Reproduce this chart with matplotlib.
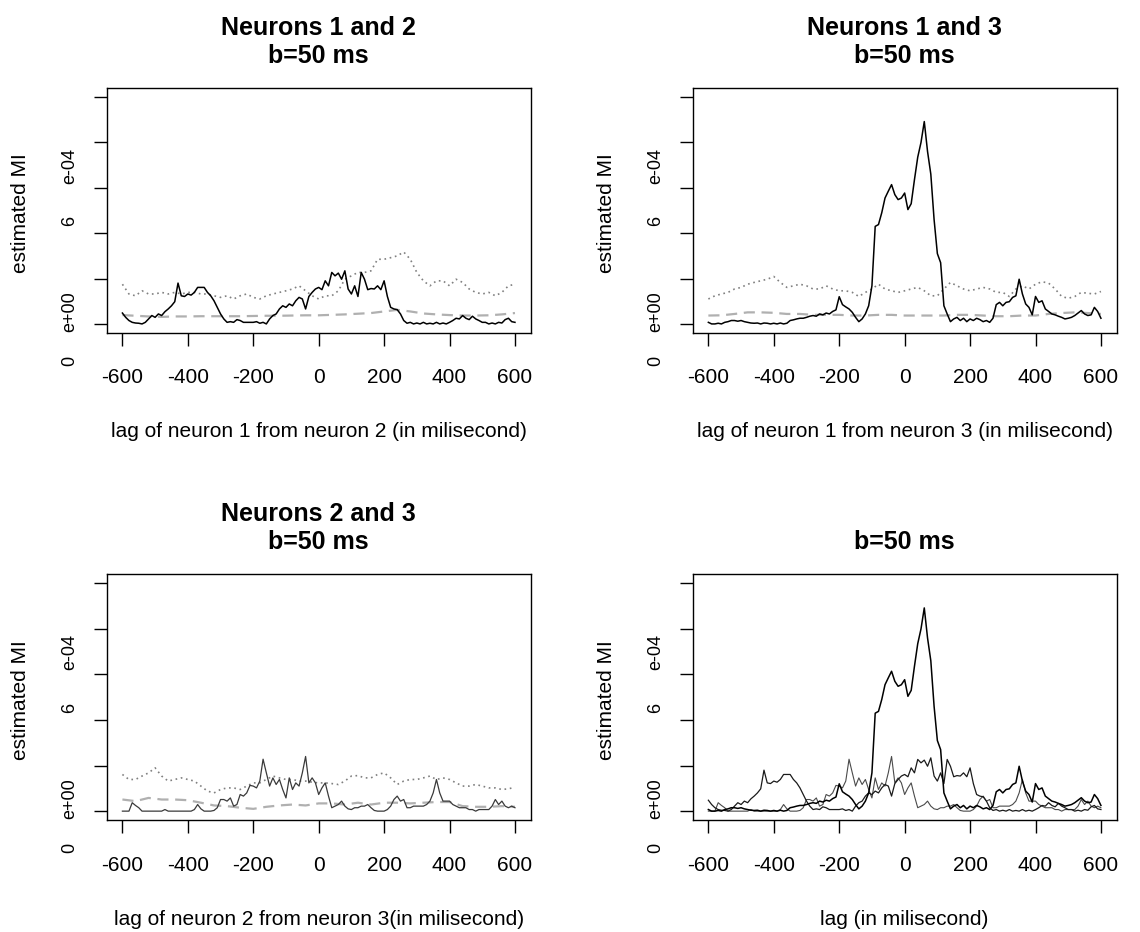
import numpy as np
import matplotlib
matplotlib.use("Agg")
import matplotlib.pyplot as plt
import matplotlib.transforms as mtransforms

plt.rcParams['font.family'] = ['Liberation Sans', 'DejaVu Sans']

# lags (ms)
lag10 = np.arange(-600, 601, 10)
lag20 = np.arange(-600, 601, 20)
lag40 = np.arange(-600, 601, 40)

# estimated MI (units of 1e-4), solid curves
mi12 = [0.48, 0.29, 0.15, 0.07, 0.04, 0.03, 0.00, 0.07, 0.22, 0.37,
        0.29, 0.44, 0.37, 0.54, 0.66, 0.80, 0.98, 1.80, 1.24, 1.21,
        1.32, 1.27, 1.39, 1.61, 1.61, 1.61, 1.39, 1.24, 1.02, 0.73,
        0.44, 0.22, 0.07, 0.10, 0.07, 0.19, 0.15, 0.07, 0.07, 0.07,
        0.07, 0.10, 0.03, 0.07, 0.00, 0.22, 0.37, 0.44, 0.66, 0.80,
        0.73, 0.88, 0.80, 1.02, 1.17, 1.10, 0.66, 1.21, 1.39, 1.54,
        1.61, 1.51, 1.90, 1.68, 2.27, 2.12, 2.24, 1.97, 2.34, 1.54,
        1.32, 1.68, 1.21, 2.27, 1.97, 1.51, 1.56, 1.54, 1.68, 1.51,
        1.90, 1.21, 0.73, 0.66, 0.63, 0.44, 0.15, 0.03, 0.07, 0.00,
        0.04, 0.00, 0.07, 0.00, 0.03, 0.00, 0.07, 0.00, 0.04, 0.00,
        0.07, 0.15, 0.25, 0.22, 0.37, 0.25, 0.19, 0.34, 0.22, 0.15,
        0.07, 0.07, 0.00, 0.04, 0.00, 0.07, 0.04, 0.19, 0.25, 0.10,
        0.07]
mi13 = [0.07, 0.00, 0.00, 0.03, 0.00, 0.07, 0.10, 0.15, 0.15, 0.12,
        0.15, 0.10, 0.07, 0.04, 0.03, 0.04, 0.00, 0.04, 0.03, 0.00,
        0.03, 0.00, 0.04, 0.00, 0.03, 0.15, 0.18, 0.22, 0.25, 0.25,
        0.29, 0.34, 0.37, 0.34, 0.44, 0.40, 0.48, 0.44, 0.55, 0.62,
        1.20, 0.85, 0.75, 0.66, 0.51, 0.29, 0.10, 0.22, 0.44, 0.80,
        1.68, 4.30, 4.38, 4.90, 5.55, 5.85, 6.14, 5.70, 5.48, 5.55,
        5.77, 5.04, 5.30, 6.36, 7.35, 8.00, 8.92, 7.60, 6.60, 4.60,
        3.10, 2.70, 0.80, 0.44, 0.10, 0.22, 0.29, 0.15, 0.25, 0.10,
        0.22, 0.15, 0.25, 0.19, 0.10, 0.15, 0.07, 0.25, 0.85, 0.95,
        0.80, 0.95, 0.98, 1.17, 1.24, 1.97, 1.32, 0.88, 0.73, 0.40,
        1.21, 0.95, 1.02, 0.66, 0.55, 0.44, 0.40, 0.34, 0.29, 0.22,
        0.25, 0.29, 0.37, 0.48, 0.59, 0.44, 0.37, 0.40, 0.73, 0.55,
        0.25]
mi23 = [0.00, 0.00, 0.00, 0.37, 0.25, 0.15, 0.00, 0.00, 0.00, 0.00,
        0.00, 0.00, 0.00, 0.07, 0.00, 0.00, 0.00, 0.00, 0.00, 0.00,
        0.00, 0.00, 0.07, 0.29, 0.10, 0.00, 0.00, 0.00, 0.03, 0.15,
        0.51, 0.51, 0.44, 0.58, 0.22, 0.29, 0.73, 0.66, 0.80, 1.13,
        1.10, 1.02, 1.32, 2.28, 1.68, 1.10, 1.46, 1.17, 1.39, 0.95,
        0.58, 1.46, 0.95, 1.24, 1.10, 1.68, 2.40, 1.24, 1.46, 1.24,
        0.73, 1.02, 1.24, 0.66, 0.15, 0.22, 0.29, 0.44, 0.22, 0.10,
        0.07, 0.15, 0.15, 0.22, 0.22, 0.29, 0.15, 0.03, 0.00, 0.00,
        0.00, 0.07, 0.22, 0.51, 0.66, 0.44, 0.51, 0.15, 0.15, 0.22,
        0.22, 0.22, 0.22, 0.29, 0.44, 0.80, 1.39, 0.80, 0.44, 0.44,
        0.44, 0.29, 0.22, 0.15, 0.15, 0.15, 0.07, 0.07, 0.00, 0.07,
        0.07, 0.07, 0.07, 0.22, 0.51, 0.29, 0.44, 0.22, 0.15, 0.22,
        0.15]

# dotted reference curves
dot12 = [1.75, 1.32, 1.24, 1.46, 1.32, 1.32, 1.39, 1.32, 1.39, 1.32,
         1.39, 1.39, 1.32, 1.32, 1.24, 1.17, 1.24, 1.10, 1.24, 1.32,
         1.17, 1.10, 1.24, 1.32, 1.39, 1.46, 1.54, 1.68, 1.46, 1.24,
         1.10, 1.24, 1.24, 1.46, 1.97, 2.12, 2.27, 2.27, 2.34, 2.85,
         2.85, 2.92, 3.00, 3.17, 2.85, 2.27, 1.90, 1.68, 1.90, 1.90,
         1.68, 1.97, 1.83, 1.54, 1.39, 1.32, 1.39, 1.24, 1.39, 1.68,
         1.75]
dot13 = [1.10, 1.24, 1.32, 1.39, 1.54, 1.61, 1.75, 1.83, 1.90, 1.97,
         2.09, 1.83, 1.61, 1.68, 1.75, 1.68, 1.54, 1.54, 1.68, 1.54,
         1.46, 1.46, 1.39, 1.21, 1.39, 1.54, 1.75, 1.54, 1.46, 1.39,
         1.46, 1.54, 1.61, 1.46, 1.24, 1.24, 1.54, 1.83, 1.68, 1.54,
         1.46, 1.54, 1.61, 1.54, 1.39, 1.39, 1.21, 1.54, 1.68, 1.54,
         1.75, 1.86, 1.80, 1.54, 1.21, 1.13, 1.21, 1.39, 1.35, 1.32,
         1.43]
dot23 = [1.61, 1.39, 1.39, 1.54, 1.68, 1.90, 1.54, 1.32, 1.39, 1.46,
         1.39, 1.32, 1.10, 0.88, 0.80, 0.95, 1.02, 1.02, 0.95, 1.10,
         1.24, 1.24, 1.39, 1.54, 1.46, 1.39, 1.39, 1.32, 1.32, 1.27,
         1.24, 1.24, 1.21, 1.17, 1.32, 1.54, 1.56, 1.46, 1.46, 1.61,
         1.68, 1.46, 1.17, 1.32, 1.39, 1.39, 1.46, 1.54, 1.39, 1.46,
         1.39, 1.24, 1.10, 1.10, 1.17, 1.10, 1.02, 1.02, 0.95, 0.98,
         1.05]

# dashed reference curves
dash12 = [0.39, 0.36, 0.33, 0.31, 0.33, 0.33, 0.34, 0.34, 0.34, 0.34,
          0.35, 0.36, 0.36, 0.37, 0.38, 0.38, 0.40, 0.42, 0.45, 0.48,
          0.55, 0.62, 0.55, 0.46, 0.42, 0.39, 0.37, 0.37, 0.38, 0.42,
          0.48]
dash13 = [0.37, 0.38, 0.44, 0.51, 0.51, 0.49, 0.44, 0.44, 0.40, 0.40,
          0.40, 0.37, 0.37, 0.40, 0.40, 0.37, 0.37, 0.37, 0.37, 0.40,
          0.40, 0.37, 0.34, 0.34, 0.37, 0.37, 0.44, 0.48, 0.51, 0.48,
          0.44]
dash23 = [0.51, 0.44, 0.58, 0.51, 0.51, 0.48, 0.37, 0.25, 0.22, 0.15,
          0.10, 0.19, 0.25, 0.29, 0.25, 0.34, 0.34, 0.29, 0.37, 0.29,
          0.37, 0.37, 0.34, 0.37, 0.40, 0.40, 0.22, 0.19, 0.19, 0.22,
          0.19]

titles = ["Neurons 1 and 2\nb=50 ms", "Neurons 1 and 3\nb=50 ms",
          "Neurons 2 and 3\nb=50 ms", "b=50 ms"]
xlabels = ["lag of neuron 1 from neuron 2 (in milisecond)",
           "lag of neuron 1 from neuron 3 (in milisecond)",
           "lag of neuron 2 from neuron 3(in milisecond)",
           "lag (in milisecond)"]
xticks = [-600, -400, -200, 0, 200, 400, 600]
yticks = [0, 2, 4, 6, 8, 10]
# garbled y labels as printed in the original, with their y positions
ytexts = ["0", "e+00", "6", "e-04"]
ytext_pos = [-1.62, 0.55, 4.52, 6.97]

fig = plt.figure(figsize=(11.4, 9.32), dpi=100)
rects = [[0.0936, 0.6427, 0.3719, 0.2629],
         [0.6076, 0.6427, 0.3719, 0.2629],
         [0.0936, 0.1199, 0.3719, 0.2640],
         [0.6076, 0.1199, 0.3719, 0.2640]]
axes = [fig.add_axes(r) for r in rects]

dotted = dict(color='#808080', lw=1.2, ls=(0, (1, 2.2)))
dashed = dict(color='#b0b0b0', lw=1.6, ls=(0, (5, 3)))

ax = axes[0]
ax.plot(lag20, dot12, **dotted)
ax.plot(lag40, dash12, **dashed)
ax.plot(lag10, mi12, color='black', lw=1.1)

ax = axes[1]
ax.plot(lag20, dot13, **dotted)
ax.plot(lag40, dash13, **dashed)
ax.plot(lag10, mi13, color='black', lw=1.1)

ax = axes[2]
ax.plot(lag20, dot23, **dotted)
ax.plot(lag40, dash23, **dashed)
ax.plot(lag10, mi23, color='#3a3a3a', lw=0.9)

ax = axes[3]
ax.plot(lag10, mi23, color='#4a4a4a', lw=0.8)
ax.plot(lag10, mi12, color='#1a1a1a', lw=0.9)
ax.plot(lag10, mi13, color='black', lw=1.1)

for ax, t, xl in zip(axes, titles, xlabels):
    ax.set_xlim(-648, 648)
    ax.set_ylim(-0.4, 10.4)
    ax.set_xticks(xticks)
    ax.set_xticklabels([str(v) for v in xticks], fontsize=15)
    ax.set_yticks(yticks)
    ax.set_yticklabels([])
    ax.tick_params(direction='out', length=9.5, width=1.0, color='black')
    ax.tick_params(axis='x', pad=16)
    for s in ax.spines.values():
        s.set_linewidth(1.0)
    ax.set_title(t, fontsize=18, fontweight='bold', pad=18, linespacing=1.2)
    ax.set_xlabel(xl, fontsize=15)
    ax.xaxis.set_label_coords(0.5, -0.363)
    ax.xaxis.label.set_verticalalignment('top')
    ax.set_ylabel("estimated MI", fontsize=15)
    ax.yaxis.set_label_coords(-0.203, 0.49)
    ax.yaxis.label.set_verticalalignment('center')
    trans = mtransforms.blended_transform_factory(ax.transAxes, ax.transData)
    for s, y in zip(ytexts, ytext_pos):
        ax.text(-0.0873, y, s, rotation=90, ha='center', va='center',
                fontsize=13, transform=trans, rotation_mode='anchor')

fig.savefig("out.png", dpi=100, facecolor='white')
